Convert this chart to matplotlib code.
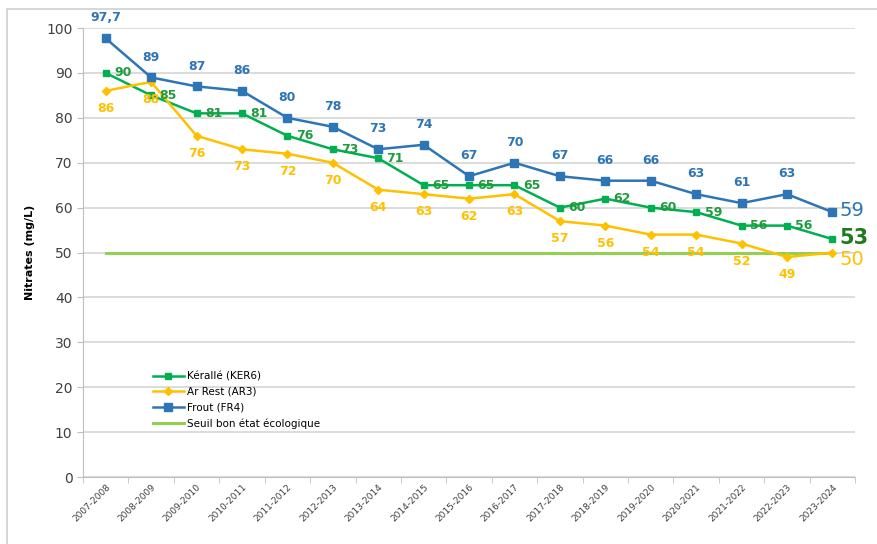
import matplotlib.pyplot as plt
import numpy as np
from matplotlib.patches import Rectangle

# data
years = ["2007-2008", "2008-2009", "2009-2010", "2010-2011", "2011-2012", "2012-2013",
         "2013-2014", "2014-2015", "2015-2016", "2016-2017", "2017-2018", "2018-2019",
         "2019-2020", "2020-2021", "2021-2022", "2022-2023", "2023-2024"]
keralle = [90, 85, 81, 81, 76, 73, 71, 65, 65, 65, 60, 62, 60, 59, 56, 56, 53]
ar_rest = [86, 88, 76, 73, 72, 70, 64, 63, 62, 63, 57, 56, 54, 54, 52, 49, 50]
frout = [97.7, 89, 87, 86, 80, 78, 73, 74, 67, 70, 67, 66, 66, 63, 61, 63, 59]
seuil = [50] * len(years)

green = "#00B050"
yellow = "#FFC000"
blue = "#2E75B6"
lgreen = "#92D050"

def fmt(v):
    return str(v).replace(".", ",") if v != int(v) else str(int(v))

fig = plt.figure(figsize=(8.78, 5.44), dpi=100)
ax = fig.add_axes([0.0945, 0.123, 0.8795, 0.8255])
fig.patches.append(Rectangle((0.008, -0.01), 1.1, 0.993, transform=fig.transFigure,
                             fill=False, edgecolor="#D0D0D0", lw=1.2))

x = np.arange(len(years))
ax.plot(x, keralle, color=green, lw=1.8, marker="s", ms=4, label="Kérallé (KER6)", zorder=3)
ax.plot(x, ar_rest, color=yellow, lw=1.8, marker="D", ms=4, label="Ar Rest (AR3)", zorder=3)
ax.plot(x, frout, color=blue, lw=1.8, marker="s", ms=6, label="Frout (FR4)", zorder=4)
ax.plot(x, seuil, color=lgreen, lw=2.2, label="Seuil bon état écologique", zorder=2)

n = len(years)
for i in range(n - 1):
    ax.annotate(fmt(frout[i]), (x[i], frout[i]), xytext=(0, 10), textcoords="offset points",
                ha="center", va="bottom", color=blue, fontsize=9, fontweight="bold")
    ax.annotate(fmt(keralle[i]), (x[i], keralle[i]), xytext=(6, 0), textcoords="offset points",
                ha="left", va="center", color="#1E9B3C", fontsize=9, fontweight="bold")
    ax.annotate(fmt(ar_rest[i]), (x[i], ar_rest[i]), xytext=(0, -8), textcoords="offset points",
                ha="center", va="top", color=yellow, fontsize=9, fontweight="bold")
ax.annotate(fmt(frout[-1]), (x[-1], frout[-1]), xytext=(5, 1), textcoords="offset points",
            ha="left", va="center", color=blue, fontsize=14)
ax.annotate(fmt(keralle[-1]), (x[-1], keralle[-1]), xytext=(5, 1), textcoords="offset points",
            ha="left", va="center", color="#1E7B1E", fontsize=15, fontweight="bold")
ax.annotate(fmt(ar_rest[-1]), (x[-1], ar_rest[-1]), xytext=(5, -5), textcoords="offset points",
            ha="left", va="center", color=yellow, fontsize=14)

ax.set_xlim(-0.5, n - 0.5)
ax.set_ylim(0, 100)
ax.set_yticks(range(0, 101, 10))
ax.set_xticks(x)
ax.set_xticklabels(years, rotation=45, ha="right", rotation_mode="anchor", fontsize=6.5, color="#404040")
ax.set_xticks(np.arange(-0.5, n, 1), minor=True)
ax.tick_params(axis="x", which="major", length=0, pad=4)
ax.tick_params(axis="x", which="minor", length=4, color="#BFBFBF")
ax.tick_params(axis="y", length=4, color="#BFBFBF", labelsize=10, labelcolor="#404040")
ax.grid(axis="y", color="#D9D9D9", lw=1.3)
ax.set_axisbelow(True)
for s in ["top", "right"]:
    ax.spines[s].set_visible(False)
ax.spines["left"].set_color("#BFBFBF")
ax.spines["bottom"].set_color("#BFBFBF")
ax.set_ylabel("Nitrates (mg/L)", fontsize=8, fontweight="bold", labelpad=8)

ax.legend(loc="upper left", bbox_to_anchor=(0.085, 0.245), frameon=False, fontsize=7.5,
          handlelength=3, handletextpad=0.3, labelspacing=0.55, borderaxespad=0)

fig.savefig("out.png", dpi=100)
